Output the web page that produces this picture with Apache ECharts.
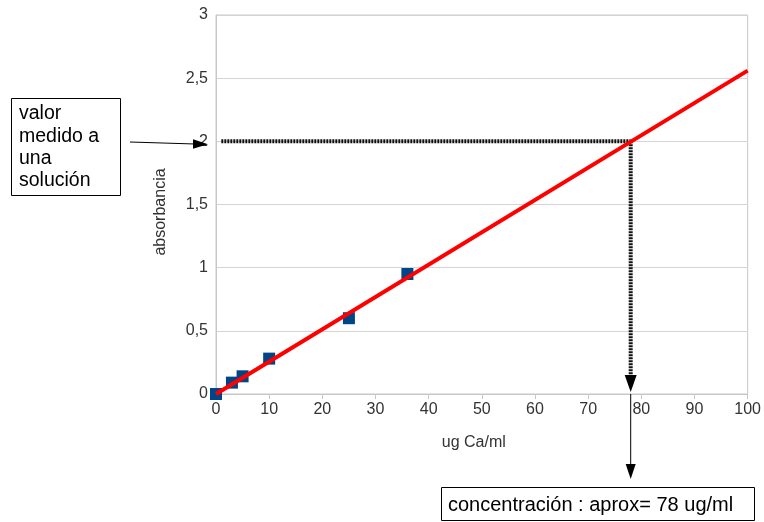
<!DOCTYPE html>
<html><head><meta charset="utf-8">
<script src="https://cdn.jsdelivr.net/npm/echarts@6/dist/echarts.min.js"></script>
<style>html,body{margin:0;padding:0;background:#fff}#c{width:764px;height:522px}</style>
</head><body><div id="c"></div>
<script>
const concentrations = [0, 3, 5, 10, 25, 36];
const absorbances = [0, 0.09, 0.14, 0.28, 0.6, 0.95];
const trendX = [0, 100];
const trendY = [0, 2.56];
const measuredAbs = 2;
const estimatedConc = 78;
const guideStartX = 1;
const xTicks = [0,10,20,30,40,50,60,70,80,90,100];
const yTicks = [0,0.5,1,1.5,2,2.5,3];
const leftNote = ['valor','medido a','una','solución'];
const rightNote = 'concentración : aprox= 78 ug/ml';

const FONT = 'Liberation Sans, Arial, sans-serif';
const chart = echarts.init(document.getElementById('c'), null, {renderer:'canvas'});
const fmt = v => String(v).replace('.', ',');
chart.setOption({
  animation:false,
  backgroundColor:'#fff',
  grid:{left:216,right:14,top:15,bottom:128,show:true,borderColor:'#c8c8c8',borderWidth:1},
  xAxis:{type:'value',min:0,max:100,interval:10,
    name:'ug Ca/ml',nameLocation:'middle',nameGap:41,
    nameTextStyle:{fontFamily:FONT,fontSize:16,color:'#333',padding:[0,16,0,0]},
    axisLine:{show:true,lineStyle:{color:'#c8c8c8'}},
    axisTick:{show:true,length:5,lineStyle:{color:'#c8c8c8'}},
    splitLine:{show:false},
    axisLabel:{fontFamily:FONT,fontSize:16,color:'#333',margin:8}},
  yAxis:{type:'value',min:0,max:3,interval:0.5,
    name:'absorbancia',nameLocation:'middle',nameGap:47,
    nameTextStyle:{fontFamily:FONT,fontSize:16,color:'#333',padding:[0,15,0,0]},
    axisLine:{show:true,lineStyle:{color:'#c8c8c8'}},
    axisTick:{show:false},
    splitLine:{show:true,lineStyle:{color:'#d4d4d4'}},
    axisLabel:{fontFamily:FONT,fontSize:16,color:'#333',margin:8,formatter:fmt}},
  series:[
    {type:'line',data:[[guideStartX,measuredAbs],[estimatedConc,measuredAbs]],symbol:'none',
     lineStyle:{color:'#111',width:4,type:[2,1]},z:3},
    {type:'line',data:[[estimatedConc,measuredAbs],[estimatedConc,0.11]],symbol:'none',
     lineStyle:{color:'#111',width:4,type:[2,1]},z:3},
    {type:'scatter',data:concentrations.map((c,i)=>[c,absorbances[i]]),symbol:'rect',symbolSize:12,
     itemStyle:{color:'#004586',opacity:1},z:4},
    {type:'line',data:trendX.map((x,i)=>[x,trendY[i]]),symbol:'none',
     lineStyle:{color:'#ff0000',width:4},z:5}
  ]
});

const p = (x,y)=>chart.convertToPixel({gridIndex:0},[x,y]);
const tip = p(estimatedConc,0);
const meas = p(0,measuredAbs);
const g = [];
g.push({type:'polygon',shape:{points:[[tip[0]-6,tip[1]-19],[tip[0]+6,tip[1]-19],[tip[0],tip[1]-2]]},style:{fill:'#000'},z:10});
g.push({type:'line',shape:{x1:tip[0],y1:tip[1],x2:tip[0],y2:tip[1]+72},style:{stroke:'#000',lineWidth:1},z:10});
g.push({type:'polygon',shape:{points:[[tip[0]-5,tip[1]+70],[tip[0]+5,tip[1]+70],[tip[0],tip[1]+85]]},style:{fill:'#000'},z:10});
g.push({type:'rect',shape:{x:441.5,y:487.5,width:313,height:33},style:{fill:'#fff',stroke:'#000',lineWidth:1},z:10});
g.push({type:'text',x:448,y:505,style:{text:rightNote,font:'20px '+FONT,fill:'#000',textVerticalAlign:'middle'},z:11});
g.push({type:'rect',shape:{x:11.5,y:98.5,width:109,height:97},style:{fill:'#fff',stroke:'#000',lineWidth:1},z:10});
leftNote.forEach((t,i)=>g.push({type:'text',x:19,y:114+i*22.3,style:{text:t,font:'19.5px '+FONT,fill:'#000',textVerticalAlign:'middle'},z:11}));
const ax = meas[0]-8, ay = meas[1]+3;
g.push({type:'line',shape:{x1:130,y1:142,x2:ax-12,y2:ay-0.3},style:{stroke:'#000',lineWidth:1},z:10});
g.push({type:'polygon',shape:{points:[[ax-15,ay-5],[ax-15,ay+4.5],[ax,ay]]},style:{fill:'#000'},z:10});
chart.setOption({graphic:g});
</script></body></html>
